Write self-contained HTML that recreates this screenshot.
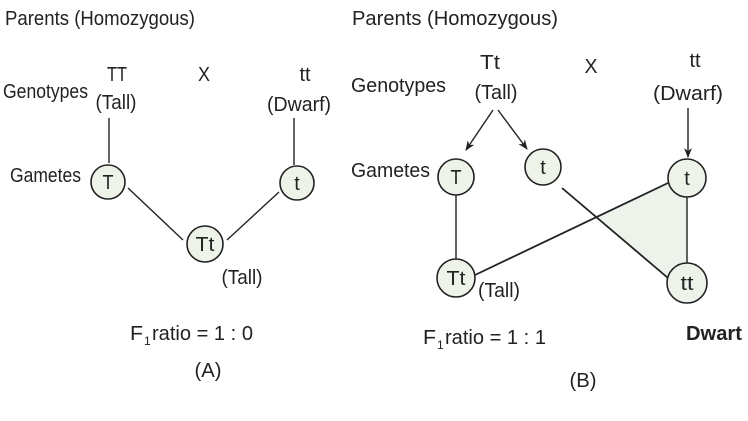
<!DOCTYPE html>
<html><head><style>html,body{margin:0;padding:0;background:#fff}svg{display:block}</style></head>
<body>
<svg width="748" height="421" viewBox="0 0 748 421" xmlns="http://www.w3.org/2000/svg" font-family="Liberation Sans, sans-serif" font-size="20" fill="#222">
<defs><marker id="a" markerWidth="10" markerHeight="10" refX="9" refY="5" orient="auto" markerUnits="userSpaceOnUse"><path d="M0,1 L10,5 L0,9 L3,5 Z" fill="#222"/></marker></defs>
<g stroke="#222" stroke-width="1.4" fill="none">
<line x1="109" y1="118" x2="109" y2="163"/>
<line x1="294" y1="118" x2="294" y2="165"/>
<line x1="128" y1="188" x2="183" y2="240"/>
<line x1="279" y1="192" x2="227" y2="240"/>
<polygon points="598,217 667,183 687,198 687,262 667,277" fill="#edf3ea" stroke="none"/>
<line x1="493" y1="110" x2="466" y2="150" marker-end="url(#a)"/>
<line x1="498" y1="110" x2="527" y2="149" marker-end="url(#a)"/>
<line x1="688" y1="108" x2="688" y2="157" marker-end="url(#a)"/>
<line x1="456" y1="195" x2="456" y2="259"/>
<line x1="562" y1="188" x2="668" y2="278" stroke-width="1.8"/>
<line x1="475" y1="275" x2="668" y2="183" stroke-width="1.8"/>
<line x1="687" y1="197" x2="687" y2="263"/>
</g>
<g fill="#eef3ea" stroke="#222" stroke-width="1.6">
<circle cx="108" cy="182" r="17"/><circle cx="297" cy="183" r="17"/><circle cx="205" cy="244" r="18"/>
<circle cx="456" cy="177" r="18"/><circle cx="543" cy="167" r="18"/><circle cx="687" cy="178" r="19"/>
<circle cx="456" cy="278" r="19"/><circle cx="687" cy="283" r="20"/>
</g>
<g text-anchor="middle">
<text x="108" y="189" lengthAdjust="spacingAndGlyphs" textLength="11">T</text><text x="297" y="190">t</text><text x="205" y="251" lengthAdjust="spacingAndGlyphs" textLength="19">Tt</text>
<text x="456" y="184" lengthAdjust="spacingAndGlyphs" textLength="11">T</text><text x="543" y="174">t</text><text x="687" y="185">t</text>
<text x="456" y="285" lengthAdjust="spacingAndGlyphs" textLength="19">Tt</text><text x="687" y="290" lengthAdjust="spacingAndGlyphs" textLength="13">tt</text>
<text x="117" y="81" lengthAdjust="spacingAndGlyphs" textLength="20">TT</text><text x="204" y="81" lengthAdjust="spacingAndGlyphs" textLength="12">X</text><text x="305" y="81">tt</text>
<text x="116" y="109" lengthAdjust="spacingAndGlyphs" textLength="41">(Tall)</text><text x="299" y="111" lengthAdjust="spacingAndGlyphs" textLength="64">(Dwarf)</text>
<text x="242" y="284" lengthAdjust="spacingAndGlyphs" textLength="41">(Tall)</text>
<text x="208" y="377" lengthAdjust="spacingAndGlyphs" textLength="27">(A)</text>
<text x="490" y="69" lengthAdjust="spacingAndGlyphs" textLength="20">Tt</text><text x="591" y="73" lengthAdjust="spacingAndGlyphs" textLength="13">X</text><text x="695" y="67">tt</text>
<text x="496" y="99" lengthAdjust="spacingAndGlyphs" textLength="43">(Tall)</text><text x="688" y="100" lengthAdjust="spacingAndGlyphs" textLength="70">(Dwarf)</text>
<text x="499" y="297" lengthAdjust="spacingAndGlyphs" textLength="42">(Tall)</text>
<text x="583" y="387" lengthAdjust="spacingAndGlyphs" textLength="27">(B)</text>
</g>
<text x="5" y="25" lengthAdjust="spacingAndGlyphs" textLength="190">Parents (Homozygous)</text>
<text x="3" y="98" lengthAdjust="spacingAndGlyphs" textLength="85">Genotypes</text>
<text x="10" y="182" lengthAdjust="spacingAndGlyphs" textLength="71">Gametes</text>
<text x="130" y="340" lengthAdjust="spacingAndGlyphs" textLength="13">F</text><text x="144" y="345" font-size="12">1</text><text x="152" y="340" lengthAdjust="spacingAndGlyphs" textLength="101">ratio = 1 : 0</text>
<text x="352" y="25" lengthAdjust="spacingAndGlyphs" textLength="206">Parents (Homozygous)</text>
<text x="351" y="92" lengthAdjust="spacingAndGlyphs" textLength="95">Genotypes</text>
<text x="351" y="177" lengthAdjust="spacingAndGlyphs" textLength="79">Gametes</text>
<text x="423" y="344" lengthAdjust="spacingAndGlyphs" textLength="13">F</text><text x="437" y="349" font-size="12">1</text><text x="445" y="344" lengthAdjust="spacingAndGlyphs" textLength="101">ratio = 1 : 1</text>
<text x="686" y="340" font-weight="bold" lengthAdjust="spacingAndGlyphs" textLength="56">Dwart</text>
</svg>
</body></html>
